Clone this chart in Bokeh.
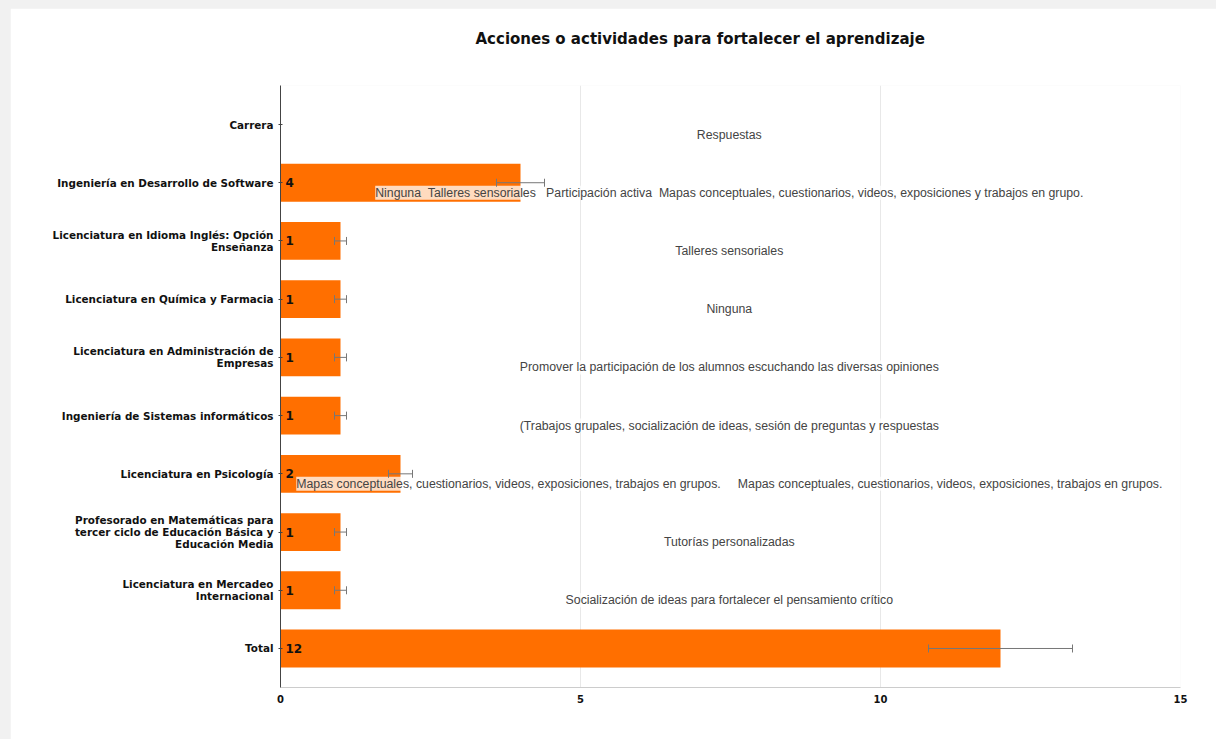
from bokeh.plotting import figure
from bokeh.models import ColumnDataSource, FactorRange, Whisker, TeeHead, FixedTicker, Title
from bokeh.embed import file_html
from bokeh.resources import INLINE
from bokeh.core.properties import value

# ---------------- data ----------------
carreras = [
    "Carrera",
    "Ingeniería en Desarrollo de Software",
    "Licenciatura en Idioma Inglés: Opción\nEnseñanza",
    "Licenciatura en Química y Farmacia",
    "Licenciatura en Administración de\nEmpresas",
    "Ingeniería de Sistemas informáticos",
    "Licenciatura en Psicología",
    "Profesorado en Matemáticas para\ntercer ciclo de Educación Básica y\nEducación Media",
    "Licenciatura en Mercadeo\nInternacional",
    "Total",
]
conteos = [0, 4, 1, 1, 1, 1, 2, 1, 1, 12]
errores = [0, 0.4, 0.1, 0.1, 0.1, 0.1, 0.2, 0.1, 0.1, 1.2]
NB = "\u00a0"
respuestas = [
    "Respuestas",
    "Ninguna" + NB * 2 + "Talleres sensoriales" + NB * 3 + "Participación activa" + NB * 2
    + "Mapas conceptuales, cuestionarios, videos, exposiciones y trabajos en grupo.",
    "Talleres sensoriales",
    "Ninguna",
    "Promover la participación de los alumnos escuchando las diversas opiniones",
    "(Trabajos grupales, socialización de ideas, sesión de preguntas y respuestas",
    "Mapas conceptuales, cuestionarios, videos, exposiciones, trabajos en grupos." + NB * 5
    + "Mapas conceptuales, cuestionarios, videos, exposiciones, trabajos en grupos.",
    "Tutorías personalizadas",
    "Socialización de ideas para fortalecer el pensamiento crítico",
    "",
]
x_ticks = [0, 5, 10, 15]
titulo = "Acciones o actividades para fortalecer el aprendizaje"

# ---------------- sources ----------------
bar_idx = [i for i, v in enumerate(conteos) if v > 0]
bars = ColumnDataSource(dict(
    cat=[carreras[i] for i in bar_idx],
    val=[conteos[i] for i in bar_idx],
    lab=[str(conteos[i]) for i in bar_idx],
    lo=[conteos[i] - errores[i] for i in bar_idx],
    hi=[conteos[i] + errores[i] for i in bar_idx],
))
RESP_X = 7.48
resp = ColumnDataSource(dict(
    cat=[c for c, r in zip(carreras, respuestas) if r],
    txt=[r for r in respuestas if r],
    x=[RESP_X for r in respuestas if r],
))

# ---------------- figure ----------------
p = figure(
    width=1206, height=731, title=None,
    y_range=FactorRange(*reversed(carreras), range_padding=0.17, range_padding_units="absolute"),
    x_range=(0, 15),
    output_backend="svg", toolbar_location=None,
    min_border_left=270, min_border_right=36, min_border_top=77, min_border_bottom=52,
)
p.background_fill_color = "white"
p.border_fill_color = "white"
p.outline_line_color = None

# spacer (nearest to the frame), then the real title above it
p.add_layout(Title(text=" ", text_font_size="10px", standoff=20), "above")
p.add_layout(Title(
    text=titulo, align="left", offset=195, standoff=10,
    text_font="DejaVu Sans", text_font_size="15px", text_font_style="bold",
    text_color="#111111",
), "above")

p.hbar(y="cat", right="val", left=0, height=0.65, source=bars,
       fill_color="#ff6f00", line_color=None)

err = Whisker(base="cat", lower="lo", upper="hi", source=bars, dimension="width",
              line_color="#777777", line_width=1, level="overlay")
err.upper_head = TeeHead(size=8, line_color="#777777", line_width=1)
err.lower_head = TeeHead(size=8, line_color="#777777", line_width=1)
p.add_layout(err)

p.text(x=0, y="cat", text="lab", source=bars, x_offset=5,
       text_align="left", text_baseline="middle",
       text_font=value("DejaVu Sans"), text_font_style="bold",
       text_font_size="12px", text_color="#111111")

p.text(x="x", y="cat", text="txt", source=resp, y_offset=10,
       text_align="center", text_baseline="middle",
       text_font=value("Liberation Sans"), text_font_size="12.3px",
       text_color="#444444",
       background_fill_color="white", background_fill_alpha=0.75)

# axes
p.xaxis.ticker = FixedTicker(ticks=x_ticks)
p.xaxis.axis_line_color = "#cccccc"
p.xaxis.major_tick_line_color = None
p.xaxis.minor_tick_line_color = None
p.xaxis.major_label_text_font = "DejaVu Sans"
p.xaxis.major_label_text_font_style = "bold"
p.xaxis.major_label_text_font_size = "10px"
p.xaxis.major_label_text_color = "#111111"
p.xaxis.major_label_standoff = 1

p.yaxis.axis_line_color = "#444444"
p.yaxis.major_tick_line_color = "#444444"
p.yaxis.major_tick_in = 2
p.yaxis.major_tick_out = 2
p.yaxis.major_label_text_font = "DejaVu Sans"
p.yaxis.major_label_text_font_style = "bold"
p.yaxis.major_label_text_font_size = "10.4px"
p.yaxis.major_label_text_color = "#111111"
p.yaxis.major_label_standoff = 5
p.yaxis.major_label_text_line_height = 1.0

p.xgrid.grid_line_color = "#e8e8e8"
p.ygrid.grid_line_color = None

html = file_html(p, INLINE)
html = html.replace(
    "<head>",
    "<head><style>html,body{background:#f1f1f1;overflow:hidden}"
    "body{padding:8px 0 0 10px !important;}</style>",
    1,
)
open("out.html", "w").write(html)
